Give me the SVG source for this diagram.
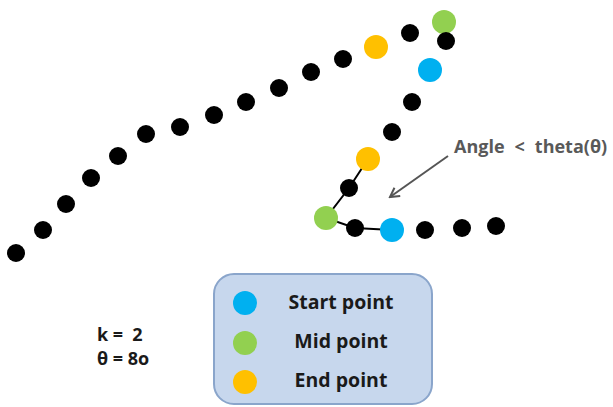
<svg xmlns="http://www.w3.org/2000/svg" width="613" height="407" viewBox="0 0 613 407">
<style>
.b{fill:#000}
.s{fill:#00b0f0}
.m{fill:#92d050}
.e{fill:#ffc000}
.t{font-family:"Open Sans","Liberation Sans",sans-serif;font-weight:bold;}
.lk{stroke:#000;stroke-width:2;fill:none}
</style>
<defs>
<marker id="ah" viewBox="0 0 12 12" refX="10" refY="6" markerWidth="12" markerHeight="12" markerUnits="userSpaceOnUse" orient="auto">
<path d="M1,1 L10,6 L1,11" fill="none" stroke="#555" stroke-width="2"/>
</marker>
</defs>
<rect width="613" height="407" fill="#fff"/>
<g id="connectors">
<polyline class="lk" points="368,159 349,188 326,218 355,228 392,230"/>
<line x1="448" y1="156" x2="390" y2="197" stroke="#555" stroke-width="2" marker-end="url(#ah)"/>
</g>
<g id="curve1">
<circle class="b" cx="16" cy="253" r="9"/>
<circle class="b" cx="43" cy="230" r="9"/>
<circle class="b" cx="66" cy="204" r="9"/>
<circle class="b" cx="91" cy="178" r="9"/>
<circle class="b" cx="118" cy="156" r="9"/>
<circle class="b" cx="146" cy="134" r="9"/>
<circle class="b" cx="180" cy="127" r="9"/>
<circle class="b" cx="214" cy="115" r="9"/>
<circle class="b" cx="246" cy="102" r="9"/>
<circle class="b" cx="279" cy="88" r="9"/>
<circle class="b" cx="311" cy="72" r="9"/>
<circle class="b" cx="343" cy="59" r="9"/>
<circle class="e" cx="376" cy="47" r="12"/>
<circle class="b" cx="410" cy="33" r="9"/>
<circle class="m" cx="444" cy="22" r="12"/>
</g>
<g id="curve2">
<circle class="b" cx="446" cy="41" r="9"/>
<circle class="s" cx="430" cy="70" r="12"/>
<circle class="b" cx="412" cy="102" r="9"/>
<circle class="b" cx="392" cy="132" r="9"/>
<circle class="e" cx="368" cy="159" r="12"/>
<circle class="b" cx="349" cy="188" r="9"/>
<circle class="m" cx="326" cy="218" r="12"/>
<circle class="b" cx="355" cy="228" r="9"/>
<circle class="s" cx="392" cy="230" r="12"/>
<circle class="b" cx="425" cy="230" r="9"/>
<circle class="b" cx="462" cy="228" r="9"/>
<circle class="b" cx="496" cy="226" r="9"/>
</g>
<g id="angle-label">
<text class="t" x="454" y="153" font-size="18" fill="#595959">Angle<tspan dx="10">&lt;</tspan><tspan dx="10">theta(θ)</tspan></text>
</g>
<g id="params">
<text class="t" x="97" y="341" font-size="18" fill="#1a1a1a">k =<tspan dx="9">2</tspan></text>
<text class="t" x="97" y="365" font-size="18" fill="#1a1a1a">θ = 8o</text>
</g>
<g id="legend">
<rect x="214" y="274" width="218" height="130" rx="20" ry="20" fill="#c7d7ed" stroke="#8aa5cb" stroke-width="2"/>
<circle class="s" cx="245" cy="303" r="12"/>
<circle class="m" cx="245" cy="343" r="12"/>
<circle class="e" cx="245" cy="382" r="12"/>
<text class="t" x="341" y="309" font-size="19.5" fill="#1a1a1a" text-anchor="middle">Start point</text>
<text class="t" x="341" y="348" font-size="19.5" fill="#1a1a1a" text-anchor="middle">Mid point</text>
<text class="t" x="341" y="387" font-size="19.5" fill="#1a1a1a" text-anchor="middle">End point</text>
</g>
</svg>
